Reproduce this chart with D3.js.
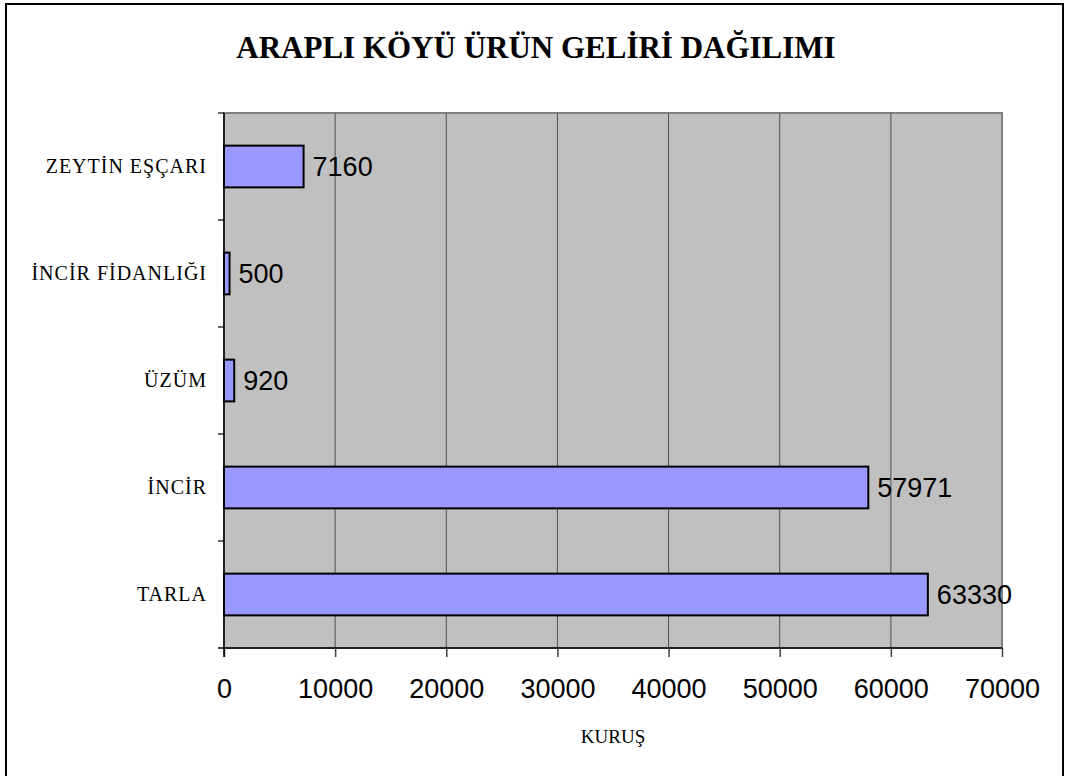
<!DOCTYPE html>
<html>
<head>
<meta charset="utf-8">
<script src="https://cdn.jsdelivr.net/npm/d3@7"></script>
<style>
  body { margin: 0; background: #fff; }
</style>
</head>
<body>
<div id="chart-area"></div>
<script>
// data
var categories = ["ZEYTİN EŞÇARI", "İNCİR FİDANLIĞI", "ÜZÜM", "İNCİR", "TARLA"];
var values = [7160, 500, 920, 57971, 63330];
var xTicks = [0, 10000, 20000, 30000, 40000, 50000, 60000, 70000];

var W = 1066, H = 776;
var margin = {left: 224, right: 64, top: 113, bottom: 128};
var width = W - margin.left - margin.right;
var height = H - margin.top - margin.bottom;

var serif = "'Liberation Serif', 'Times New Roman', serif";
var sans = "'Liberation Sans', Arial, sans-serif";

var svg = d3.select("#chart-area").append("svg")
    .attr("width", W)
    .attr("height", H);

// outer frame
svg.append("rect")
    .attr("x", 6).attr("y", 4)
    .attr("width", 1057).attr("height", 800)
    .attr("fill", "none")
    .attr("stroke", "#000")
    .attr("stroke-width", 2);

svg.append("text")
    .attr("x", 536)
    .attr("y", 58)
    .attr("text-anchor", "middle")
    .attr("font-family", serif)
    .attr("font-weight", "bold")
    .attr("font-size", 31)
    .text("ARAPLI KÖYÜ ÜRÜN GELİRİ DAĞILIMI");

var g = svg.append("g")
    .attr("transform", "translate(" + margin.left + "," + margin.top + ")");

var x = d3.scaleLinear()
    .domain([0, 70000])
    .range([0, width]);

var y = d3.scaleBand()
    .domain(categories)
    .range([0, height]);

// plot background
g.append("rect")
    .attr("width", width)
    .attr("height", height)
    .attr("fill", "#c0c0c0")
    .attr("stroke", "#808080")
    .attr("stroke-width", 2);

// gridlines
g.selectAll(".grid")
    .data(xTicks.slice(1, -1))
    .enter().append("line")
    .attr("class", "grid")
    .attr("x1", function(d) { return x(d); })
    .attr("x2", function(d) { return x(d); })
    .attr("y1", 0)
    .attr("y2", height)
    .attr("stroke", "#505050")
    .attr("stroke-width", 1);

// x axis
var xAxis = g.append("g")
    .attr("transform", "translate(0," + height + ")")
    .call(d3.axisBottom(x)
        .tickValues(xTicks)
        .tickSize(9)
        .tickPadding(22)
        .tickFormat(d3.format("d")));
xAxis.select(".domain").attr("d", "M-6,0H" + width).attr("stroke", "#000").attr("stroke-width", 1.5);
xAxis.selectAll(".tick line").attr("stroke", "#404040").attr("stroke-width", 1.5);
xAxis.selectAll(".tick text")
    .attr("font-family", sans)
    .attr("font-size", 27)
    .attr("fill", "#000");

// y axis
var yAxis = g.append("g")
    .call(d3.axisLeft(y).tickSize(0).tickPadding(17));
yAxis.select(".domain").attr("d", "M0,0V" + (height + 9)).attr("stroke", "#000").attr("stroke-width", 1.5);
yAxis.selectAll(".tick text")
    .attr("font-family", serif)
    .attr("font-size", 20)
    .attr("letter-spacing", 1)
    .attr("fill", "#000");

// category separators on y axis
g.selectAll(".ysep")
    .data(categories)
    .enter().append("line")
    .attr("class", "ysep")
    .attr("x1", -6).attr("x2", 0)
    .attr("y1", function(d) { return y(d); })
    .attr("y2", function(d) { return y(d); })
    .attr("stroke", "#000")
    .attr("stroke-width", 1.2);

// bars
var barH = y.bandwidth() * 0.39;
var data = categories.map(function(c, i) { return {cat: c, val: values[i]}; });

g.selectAll(".bar")
    .data(data)
    .enter().append("rect")
    .attr("class", "bar")
    .attr("x", x(0))
    .attr("y", function(d) { return y(d.cat) + (y.bandwidth() - barH) / 2; })
    .attr("width", function(d) { return x(d.val) - x(0); })
    .attr("height", barH)
    .attr("fill", "#9999ff")
    .attr("stroke", "#000")
    .attr("stroke-width", 2);

g.selectAll(".lbl")
    .data(data)
    .enter().append("text")
    .attr("class", "lbl")
    .attr("x", function(d) { return x(d.val) + 9; })
    .attr("y", function(d) { return y(d.cat) + y.bandwidth() / 2; })
    .attr("dy", "0.36em")
    .attr("font-family", sans)
    .attr("font-size", 27)
    .attr("fill", "#000")
    .text(function(d) { return d.val; });

// axis title
svg.append("text")
    .attr("x", 613)
    .attr("y", 743)
    .attr("text-anchor", "middle")
    .attr("font-family", serif)
    .attr("font-size", 19)
    .text("KURUŞ");
</script>
</body>
</html>
